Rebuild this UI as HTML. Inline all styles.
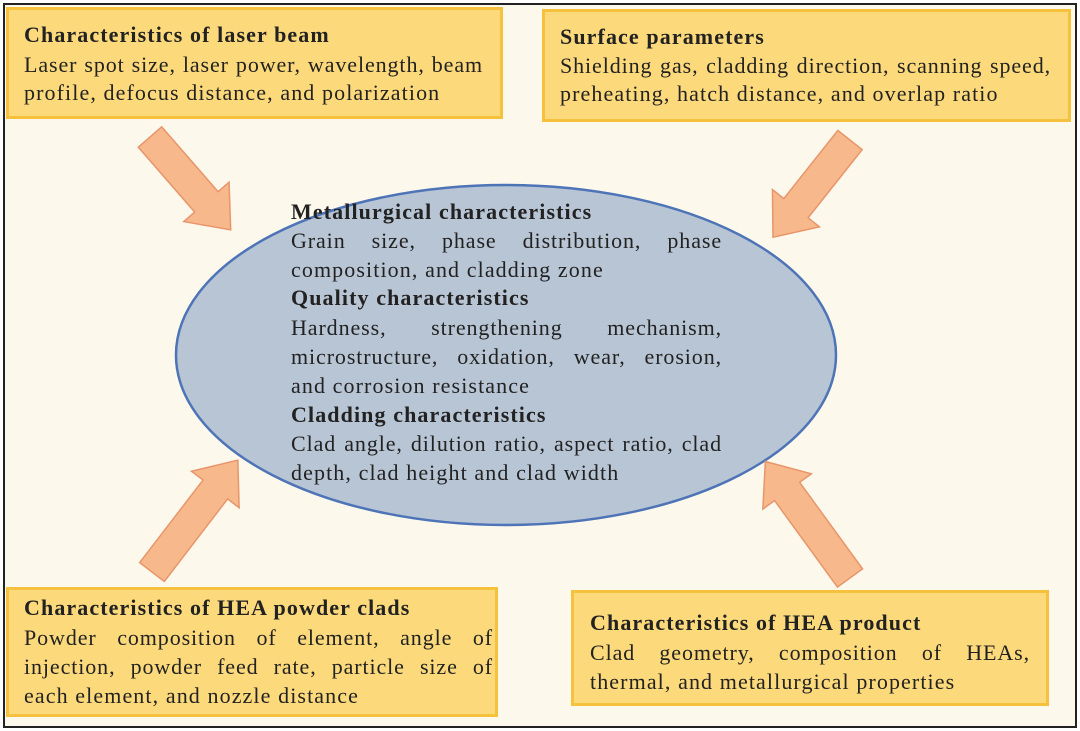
<!DOCTYPE html>
<html><head><meta charset="utf-8"><style>
body{margin:0;width:1080px;height:731px;background:#fff;position:relative;overflow:hidden;font-family:"Liberation Serif",serif;color:#222;}
.frame{position:absolute;left:3px;top:3px;width:1070px;height:721px;border:2px solid #222;background:#fdf8ec;}
.box{position:absolute;background:#fcd97a;border:3px solid #f6c23e;box-sizing:border-box;}
svg{position:absolute;left:0;top:0}
.l{position:absolute;font-size:22px;line-height:29px;letter-spacing:1.1px;white-space:nowrap;}
.h{font-weight:bold;letter-spacing:1.1px;}
.j{text-align:justify;text-align-last:justify;white-space:normal;letter-spacing:0.9px;}
</style></head><body>
<div class="frame"></div>
<svg width="1080" height="731">
<ellipse cx="506" cy="355" rx="330" ry="170" fill="#b8c5d4" stroke="#4e74b8" stroke-width="2.5"/>
<g fill="#f7b98c" stroke="#e8956a" stroke-width="1.5">
<polygon transform="translate(150,137) rotate(49)" points="0,-15.5 86,-15.5 86,-30 123,0 86,30 86,15.5 0,15.5"/>
<polygon transform="translate(850,140) rotate(128.4)" points="0,-15.5 87,-15.5 87,-30 124,0 87,30 87,15.5 0,15.5"/>
<polygon transform="translate(152,572) rotate(-52.5)" points="0,-15.5 104,-15.5 104,-30 141,0 104,30 104,15.5 0,15.5"/>
<polygon transform="translate(850,578) rotate(-126)" points="0,-15.5 107,-15.5 107,-30 144,0 107,30 107,15.5 0,15.5"/>
</g>
</svg>
<div class="box" style="left:6px;top:7px;width:497px;height:112px;"></div>
<div class="box" style="left:542px;top:9px;width:529px;height:113px;"></div>
<div class="box" style="left:6px;top:587px;width:492px;height:130px;"></div>
<div class="box" style="left:571px;top:590px;width:478px;height:116px;"></div>

<div class="l h" style="left:24px;top:20px">Characteristics of laser beam</div>
<div class="l j" style="left:24px;top:50px;width:459px">Laser spot size, laser power, wavelength, beam</div>
<div class="l" style="left:24px;top:78px">profile, defocus distance, and polarization</div>

<div class="l h" style="left:560px;top:22px">Surface parameters</div>
<div class="l j" style="left:560px;top:51px;width:491px">Shielding gas, cladding direction, scanning speed,</div>
<div class="l" style="left:560px;top:79px">preheating, hatch distance, and overlap ratio</div>

<div class="l h" style="left:291px;top:197px">Metallurgical characteristics</div>
<div class="l j" style="left:291px;top:226px;width:431px">Grain size, phase distribution, phase</div>
<div class="l" style="left:291px;top:255px">composition, and cladding zone</div>
<div class="l h" style="left:291px;top:283px">Quality characteristics</div>
<div class="l j" style="left:291px;top:313px;width:431px">Hardness, strengthening mechanism,</div>
<div class="l j" style="left:291px;top:342px;width:431px">microstructure, oxidation, wear, erosion,</div>
<div class="l" style="left:291px;top:371px">and corrosion resistance</div>
<div class="l h" style="left:291px;top:400px">Cladding characteristics</div>
<div class="l j" style="left:291px;top:429px;width:431px">Clad angle, dilution ratio, aspect ratio, clad</div>
<div class="l" style="left:291px;top:458px">depth, clad height and clad width</div>

<div class="l h" style="left:24px;top:593px">Characteristics of HEA powder clads</div>
<div class="l j" style="left:24px;top:623px;width:469px">Powder composition of element, angle of</div>
<div class="l j" style="left:24px;top:652px;width:469px">injection, powder feed rate, particle size of</div>
<div class="l" style="left:24px;top:681px">each element, and nozzle distance</div>

<div class="l h" style="left:590px;top:608px">Characteristics of HEA product</div>
<div class="l j" style="left:590px;top:638px;width:440px">Clad geometry, composition of HEAs,</div>
<div class="l" style="left:590px;top:667px">thermal, and metallurgical properties</div>
</body></html>
